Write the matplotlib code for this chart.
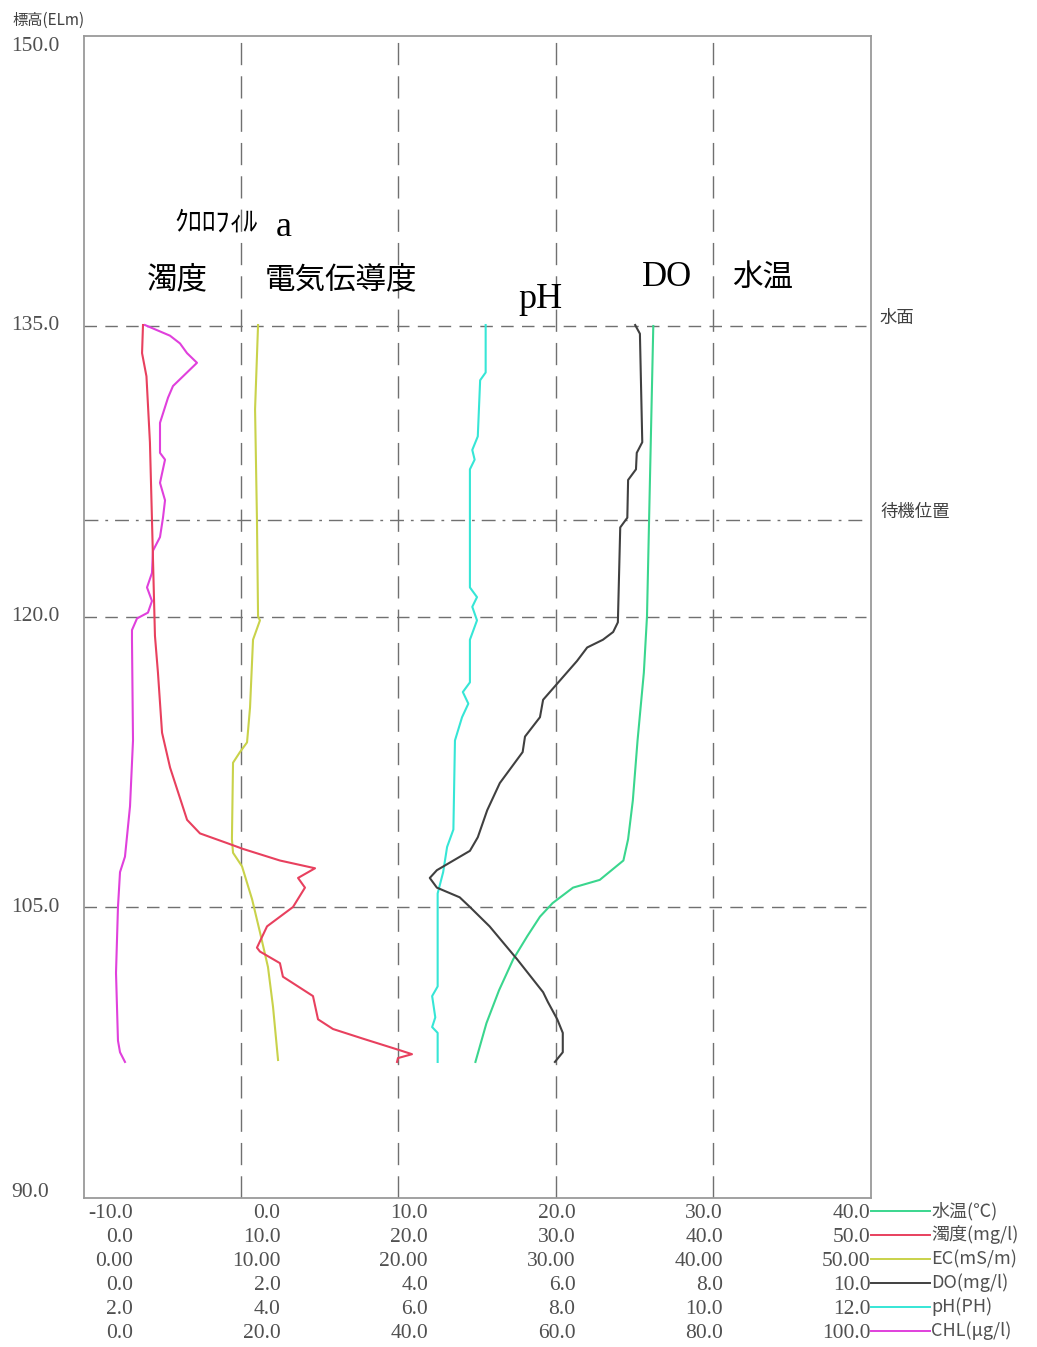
import matplotlib
matplotlib.use("Agg")
import matplotlib.pyplot as plt
import matplotlib.transforms as mtrans
import numpy as np

# ---------------- data ----------------
# Water temperature (deg C)
temp_elev = [135.0, 120.0, 117.1, 113.6, 110.5, 108.5, 107.4, 106.4, 106.0, 105.2, 104.5,
             103.5, 102.3, 100.7, 99.0, 97.0]
temp_val = [26.2, 25.8, 25.6, 25.2, 24.9, 24.6, 24.3, 22.8, 21.1, 19.8, 19.0,
            18.2, 17.3, 16.4, 15.6, 14.9]

# Turbidity (mg/l)
turb_elev = [135.05, 133.6, 132.4, 129.0, 125.0, 119.0, 117.1, 114.0, 112.2, 109.5, 108.8,
             108.3, 108.0, 107.4, 107.0, 106.5, 106.0, 105.0, 104.0, 102.9, 102.7, 102.1,
             101.4, 100.4, 99.2, 98.7, 98.2, 97.6, 97.4, 97.2, 97.0]
turb_val = [3.78, 3.72, 4.00, 4.22, 4.35, 4.54, 4.73, 4.99, 5.50, 6.58, 7.40,
            9.12, 10.13, 12.48, 14.71, 13.63, 14.07, 13.31, 11.66, 11.02, 11.21, 12.48,
            12.67, 14.58, 14.90, 15.85, 17.76, 20.11, 20.87, 19.98, 19.92]

# Electric conductivity (mS/m)
ec_elev = [135.05, 130.7, 125.0, 120.0, 119.8, 118.8, 115.3, 113.5, 113.0, 112.45, 108.5,
           107.8, 107.1, 105.4, 103.7, 101.9, 99.85, 97.1]
ec_val = [11.09, 10.90, 11.02, 11.09, 11.21, 10.77, 10.58, 10.39, 9.94, 9.50, 9.43,
          9.50, 10.07, 10.71, 11.21, 11.72, 12.04, 12.36]

# Dissolved oxygen (mg/l)
do_elev = [135.05, 134.6, 129.0, 128.45, 127.6, 127.05, 125.1, 124.6, 119.7, 119.2, 118.8,
           118.4, 117.7, 115.7, 114.8, 113.8, 113.0, 111.4, 110.0, 108.6, 107.9, 106.9,
           106.5, 106.0, 105.5, 105.0, 104.0, 102.3, 100.6, 100.1, 99.2, 98.5, 97.5, 97.0]
do_val = [7.01, 7.07, 7.10, 7.03, 7.02, 6.92, 6.91, 6.82, 6.79, 6.73, 6.60,
          6.40, 6.27, 5.84, 5.80, 5.61, 5.58, 5.29, 5.13, 5.01, 4.91, 4.49,
          4.40, 4.49, 4.78, 4.91, 5.16, 5.51, 5.84, 5.90, 6.02, 6.09, 6.09, 5.99]

# pH
ph_elev = [135.05, 132.6, 132.2, 129.3, 128.6, 128.1, 127.6, 121.5, 121.0, 120.5, 119.8,
           118.8, 116.6, 116.1, 115.5, 114.8, 113.6, 109.0, 108.1, 106.8, 105.7, 100.9,
           100.4, 99.3, 98.8, 98.5, 97.0]
ph_val = [7.11, 7.11, 7.04, 7.01, 6.94, 6.97, 6.91, 6.91, 7.00, 6.94, 7.00,
          6.91, 6.91, 6.82, 6.89, 6.81, 6.72, 6.70, 6.62, 6.57, 6.50, 6.50,
          6.43, 6.47, 6.43, 6.50, 6.50]

# Chlorophyll a (ug/l)
chl_elev = [135.05, 134.5, 134.1, 133.6, 133.1, 132.6, 131.9, 131.3, 130.0, 128.45, 128.1,
            126.9, 126.0, 125.1, 124.1, 123.4, 122.25, 121.5, 120.8, 120.2, 119.9, 119.3,
            118.8, 113.6, 110.2, 107.6, 106.8, 105.0, 101.6, 98.1, 97.5, 97.0]
chl_val = [7.81, 10.99, 12.26, 13.15, 14.42, 13.15, 11.37, 10.74, 9.72, 9.72, 10.36,
           9.72, 10.36, 10.10, 9.72, 8.83, 8.70, 8.07, 8.70, 8.19, 6.80, 6.16,
           6.16, 6.29, 5.91, 5.27, 4.64, 4.38, 4.13, 4.38, 4.64, 5.27]

# axis scales for each parameter, in legend order
scale_names = ["水温(℃)", "濁度(mg/l)", "EC(mS/m)", "DO(mg/l)", "pH(PH)", "CHL(μg/l)"]
scale_ticks = [
    ["-10.0", "0.0", "10.0", "20.0", "30.0", "40.0"],
    ["0.0", "10.0", "20.0", "30.0", "40.0", "50.0"],
    ["0.00", "10.00", "20.00", "30.00", "40.00", "50.00"],
    ["0.0", "2.0", "4.0", "6.0", "8.0", "10.0"],
    ["2.0", "4.0", "6.0", "8.0", "10.0", "12.0"],
    ["0.0", "20.0", "40.0", "60.0", "80.0", "100.0"],
]
scale_ranges = [(-10, 40), (0, 50), (0, 50), (0, 10), (2, 12), (0, 100)]
colors = ["#3ad68e", "#e8405e", "#c9d24a", "#404040", "#36e6d6", "#e040dc"]

y_ticks = [150.0, 135.0, 120.0, 105.0, 90.0]
ref_levels = [135.0, 125.0, 120.0, 105.0]
ref_labels = {135.0: "水面", 125.0: "待機位置"}
vgrid = [0, 10, 20, 30]

# ---------------- figure ----------------
W, H = 1037, 1347
fig = plt.figure(figsize=(W / 100, H / 100), dpi=100)
fig.patch.set_facecolor("white")
ax = fig.add_axes([83.5 / W, 1 - 1197.5 / H, 787 / W, 1162 / H])
ax.set_xlim(-10, 40)
ax.set_ylim(90, 150)
ax.set_xticks([])
ax.set_yticks([])
for s in ax.spines.values():
    s.set_color("#9a9a9a")
    s.set_linewidth(1.3)

def to_axis(vals, rng):
    lo, hi = rng
    v = np.asarray(vals, dtype=float)
    return -10 + 50 * (v - lo) / (hi - lo)

# grid
for gx in vgrid:
    ax.axvline(gx, color="#707070", lw=1.0, dashes=(16, 8), zorder=1)
for lv in ref_levels:
    if lv == 125.0:
        ax.plot([-10, 39.7], [lv, lv], color="#707070", lw=1.0, dashes=(10, 5, 2, 5), zorder=1)
    else:
        ax.plot([-10, 39.7], [lv, lv], color="#707070", lw=1.0, dashes=(9, 6), zorder=1)

series = [(temp_val, temp_elev), (turb_val, turb_elev), (ec_val, ec_elev),
          (do_val, do_elev), (ph_val, ph_elev), (chl_val, chl_elev)]
draw_order = [2, 0, 4, 3, 5, 1]
for i in draw_order:
    vals, elev = series[i]
    ax.plot(to_axis(vals, scale_ranges[i]), elev, color=colors[i], lw=1.5, zorder=3)

# fonts
num_font = ["Liberation Serif", "Noto Sans CJK JP"]
cjk_font = ["Noto Sans CJK JP", "DejaVu Sans"]
grey = "#505050"

# y tick labels
ytrans = mtrans.blended_transform_factory(fig.transFigure, ax.transData)
for yt in y_ticks:
    va = "center"
    yy = yt
    if yt == 150.0:
        va = "top"
        yy = yt - 0.1
    if yt == 90.0:
        va = "bottom"
        yy = yt - 0.25
    ax.text(11 / W, yy, f"{yt:.1f}", transform=ytrans, ha="left", va=va,
            fontsize=15.5, family=num_font, color=grey)
fig.text(12 / W, 1 - 20 / H, "標高(ELm)", ha="left", va="center",
         fontsize=11, family=cjk_font, color="#404040")

# reference labels
for lv, lab in ref_labels.items():
    ax.text(880 / W, lv + 0.42, lab, transform=ytrans, ha="left", va="center",
            fontsize=12.5, family=cjk_font, color="#404040")

# bottom scale table + legend
row0 = 1211
dy = 24
right_start = (133 - 83.5) / 787
for r in range(6):
    ypx = row0 + r * dy
    yf = (1197.5 - ypx) / 1162
    yt_txt = (1197.5 - ypx - 2) / 1162
    for k in range(6):
        xf = right_start + k * (1.0 - right_start) / 5
        ax.text(xf, yt_txt, scale_ticks[r][k], transform=ax.transAxes, ha="right", va="center",
                fontsize=15.5, family=num_font, color=grey, clip_on=False)
    ax.plot([1.0, (930 - 83.5) / 787], [yf, yf], transform=ax.transAxes, color=colors[r],
            lw=1.4, clip_on=False)
    ax.text((931 - 83.5) / 787, yf, scale_names[r], transform=ax.transAxes, ha="left",
            va="center", fontsize=13, family=cjk_font, color=grey, clip_on=False)

# annotations
def ftext(xc, yc, s, size, fam, **kw):
    fig.text(xc / W, 1 - yc / H, s, ha="center", va="center", fontsize=size, family=fam,
             color="black", **kw)

ftext(216, 223, "ｸﾛﾛﾌｨﾙ", 20, cjk_font)
ftext(284, 228, "a", 26, ["Liberation Serif"])
ftext(177, 280, "濁度", 22, cjk_font)
ftext(341, 280, "電気伝導度", 22, cjk_font)
ftext(540, 300, "pH", 26, ["Liberation Serif"])
ftext(667, 278, "DO", 25, ["Liberation Serif"])
ftext(763, 278, "水温", 22, cjk_font)

fig.savefig("out.png", dpi=100, facecolor="white")
